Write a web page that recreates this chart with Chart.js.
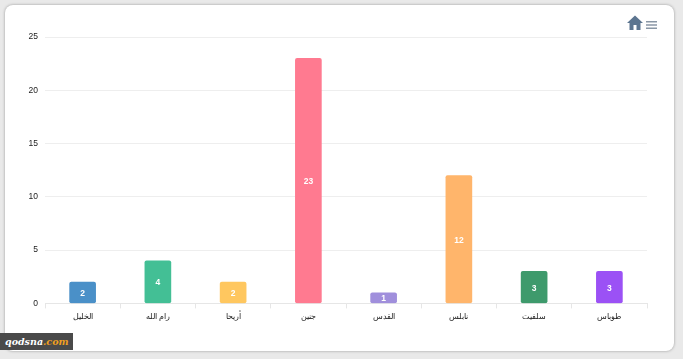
<!DOCTYPE html>
<html>
<head>
<meta charset="utf-8">
<script src="https://cdn.jsdelivr.net/npm/chart.js"></script>
<style>
  html, body { margin: 0; padding: 0; background: #e9e9e9; width: 683px; height: 359px; overflow: hidden; }
  #card { position: absolute; left: 5px; top: 5px; width: 669px; height: 346px; background: #fff; border-radius: 8px; box-shadow: 0 0 3px rgba(0,0,0,.35); }
  #chart { position: absolute; left: 0; top: 0; }
  #icons { position: absolute; left: 627px; top: 15px; }
  #logo { position: absolute; left: 0; top: 333px; width: 73px; height: 17px; background: #4a4a4a; color: #fff; font: italic bold 9.5px "DejaVu Serif", serif; line-height: 17px; text-indent: 5px; white-space: nowrap; overflow: hidden; }
  #logo span { color: #f0a020; }
</style>
</head>
<body>
<div id="card"></div>
<canvas id="chart" width="683" height="359"></canvas>
<svg id="icons" width="32" height="16" viewBox="0 0 32 16">
  <path d="M8 0.5 L0 8 L2.5 8 L2.5 15 L6.5 15 L6.5 10 L9.5 10 L9.5 15 L13.5 15 L13.5 8 L16 8 Z" fill="#5c7590"/>
  <path d="M19 6h11v1.6H19zM19 9.2h11v1.6H19zM19 12.4h11v1.6H19z" fill="#8a97a6"/>
</svg>
<div id="logo">qodsna<span>.com</span></div>
<script>
const categories = ['الخليل', 'رام الله', 'أريحا', 'جنين', 'القدس', 'نابلس', 'سلفيت', 'طوباس'];
const values = [2, 4, 2, 23, 1, 12, 3, 3];
const barColors = ['#4a90c8', '#43bf95', '#ffc75f', '#ff7a90', '#a08fdc', '#ffb56b', '#3e9a6c', '#9b51f5'];
const yTicks = [0, 5, 10, 15, 20, 25];

// value printed in the middle of each bar
const barValues = {
  id: 'barValues',
  afterDatasetsDraw(chart) {
    const ctx = chart.ctx;
    ctx.save();
    ctx.font = 'bold 8.5px "Liberation Sans", Arial, sans-serif';
    ctx.fillStyle = '#fff';
    ctx.textAlign = 'center';
    ctx.textBaseline = 'middle';
    chart.getDatasetMeta(0).data.forEach((bar, i) => {
      const c = bar.getCenterPoint();
      ctx.fillText(values[i], c.x, c.y + 1);
    });
    ctx.restore();
  }
};

new Chart(document.getElementById('chart'), {
  type: 'bar',
  plugins: [barValues],
  data: {
    labels: categories,
    datasets: [{
      data: values,
      backgroundColor: barColors,
      borderRadius: 2,
      borderSkipped: false,
      barThickness: 26
    }]
  },
  options: {
    responsive: false,
    animation: false,
    layout: { padding: { left: 28, right: 36, top: 37, bottom: 33 } },
    plugins: { legend: { display: false }, tooltip: { enabled: false } },
    scales: {
      x: {
        grid: { drawOnChartArea: false, color: '#e6e6e6', tickLength: 5 },
        border: { color: '#e6e6e6' },
        ticks: { color: '#222', font: { family: '"Liberation Sans", Arial, sans-serif', size: 8 }, padding: 4, maxRotation: 0 }
      },
      y: {
        min: 0,
        max: 25,
        afterBuildTicks(axis) { axis.ticks = yTicks.map(v => ({ value: v })); },
        grid: { color: '#eeeeee', drawTicks: false },
        border: { display: false },
        afterFit(axis) { axis.width = 17; },
        ticks: { color: '#222', font: { family: '"Liberation Sans", Arial, sans-serif', size: 8.5 }, padding: 7 }
      }
    }
  }
});
</script>
</body>
</html>
